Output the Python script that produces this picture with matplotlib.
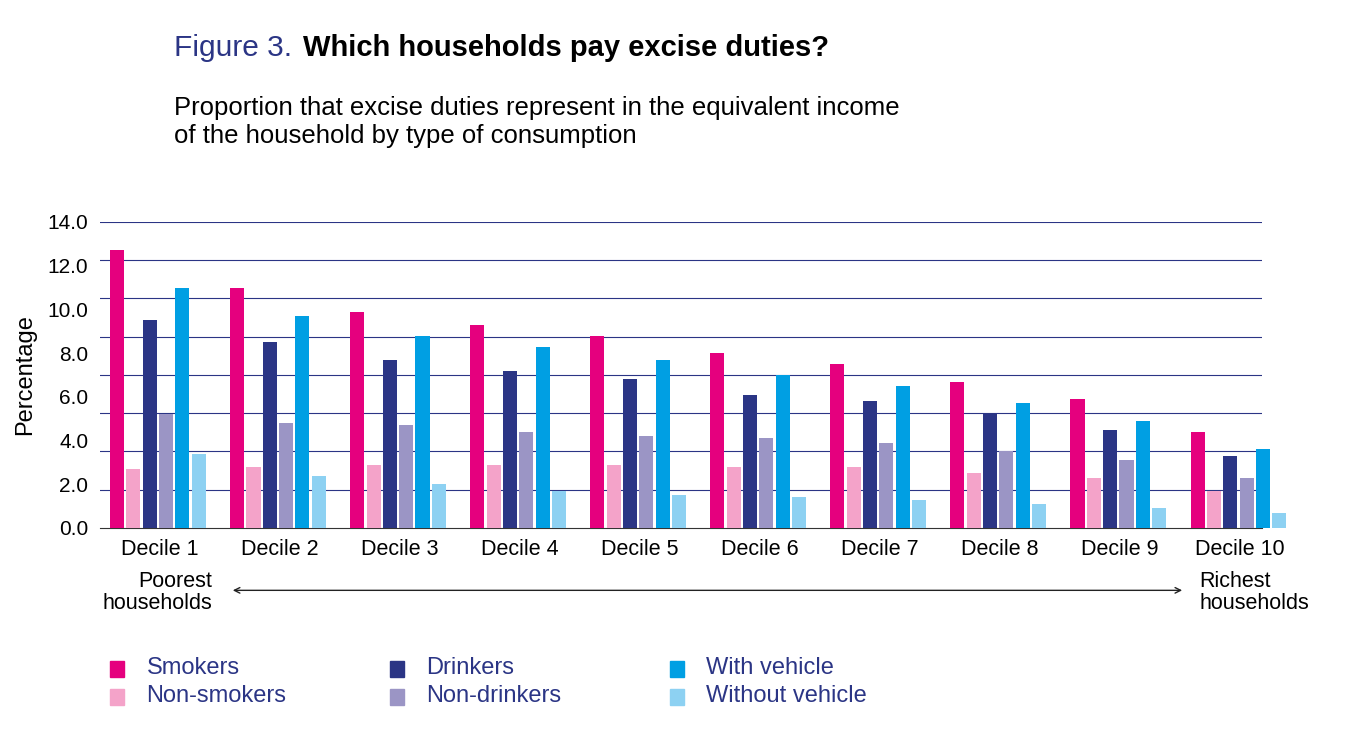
import numpy as np
import matplotlib.pyplot as plt
from matplotlib.patches import Rectangle

plt.rcParams['font.family'] = ['Liberation Sans', 'DejaVu Sans']

deciles = [f"Decile {i}" for i in range(1, 11)]
smokers = [12.7, 11.0, 9.9, 9.3, 8.8, 8.0, 7.5, 6.7, 5.9, 4.4]
non_smokers = [2.7, 2.8, 2.9, 2.9, 2.9, 2.8, 2.8, 2.5, 2.3, 1.7]
drinkers = [9.5, 8.5, 7.7, 7.2, 6.8, 6.1, 5.8, 5.2, 4.5, 3.3]
non_drinkers = [5.2, 4.8, 4.7, 4.4, 4.2, 4.1, 3.9, 3.5, 3.1, 2.3]
with_vehicle = [11.0, 9.7, 8.8, 8.3, 7.7, 7.0, 6.5, 5.7, 4.9, 3.6]
without_vehicle = [3.4, 2.4, 2.0, 1.7, 1.5, 1.4, 1.3, 1.1, 0.9, 0.7]

series = [
    ("Smokers", smokers, "#e5007e"),
    ("Non-smokers", non_smokers, "#f4a3c9"),
    ("Drinkers", drinkers, "#2b3585"),
    ("Non-drinkers", non_drinkers, "#9b95c5"),
    ("With vehicle", with_vehicle, "#009fe3"),
    ("Without vehicle", without_vehicle, "#8dd1f2"),
]
navy = "#2b3585"

fig = plt.figure(figsize=(13.45, 7.37), dpi=100)
ax = fig.add_axes([0.074, 0.2836, 0.864, 0.4152])

x = np.arange(len(deciles))
stride, width = 0.136, 0.117
for i, (name, vals, col) in enumerate(series):
    ax.bar(x + (i - 2.6) * stride, vals, width=width, color=col, zorder=3, clip_on=False)

ax.set_xlim(-0.5, 9.18)
ax.set_ylim(0, 14)
for g in np.linspace(0, 14, 9)[1:]:
    ax.axhline(g, color=navy, lw=0.8, zorder=1)
ax.set_yticks(np.arange(0, 15, 2))
ax.set_yticklabels([f"{v:.1f}" for v in np.arange(0, 15, 2)], fontsize=15)
ax.set_xticks(x)
ax.set_xticklabels(deciles, fontsize=15.5)
ax.tick_params(length=0, pad=8)
for s in ["top", "right", "left"]:
    ax.spines[s].set_visible(False)
ax.spines["bottom"].set_color("#333333")
ax.set_ylabel("Percentage", fontsize=17, labelpad=8)

fig.text(0.129, 0.935, "Figure 3.", color=navy, fontsize=21.5, va="center")
fig.text(0.225, 0.935, "Which households pay excise duties?", fontsize=21,
         fontweight="bold", va="center")
fig.text(0.129, 0.835, "Proportion that excise duties represent in the equivalent income\nof the household by type of consumption",
         fontsize=18.5, va="center", linespacing=1.2)

fig.text(0.158, 0.196, "Poorest\nhouseholds", fontsize=15.5, ha="right", va="center", linespacing=1.05)
fig.text(0.892, 0.196, "Richest\nhouseholds", fontsize=15.5, ha="left", va="center", linespacing=1.05)
fig.add_artist(plt.Annotation("", xy=(0.171, 0.199), xytext=(0.881, 0.199),
                              xycoords="figure fraction",
                              arrowprops=dict(arrowstyle="<->", lw=1, color="#222222")))

cols = [0.082, 0.290, 0.498]
rows = [0.093, 0.055]
for i, (name, vals, col) in enumerate(series):
    cx, cy = cols[i // 2], rows[i % 2]
    fig.add_artist(Rectangle((cx, cy - 0.012), 0.0105, 0.022, color=col,
                             transform=fig.transFigure))
    fig.text(cx + 0.027, cy, name, fontsize=17, color=navy, va="center")

fig.savefig("out.png", dpi=100)
